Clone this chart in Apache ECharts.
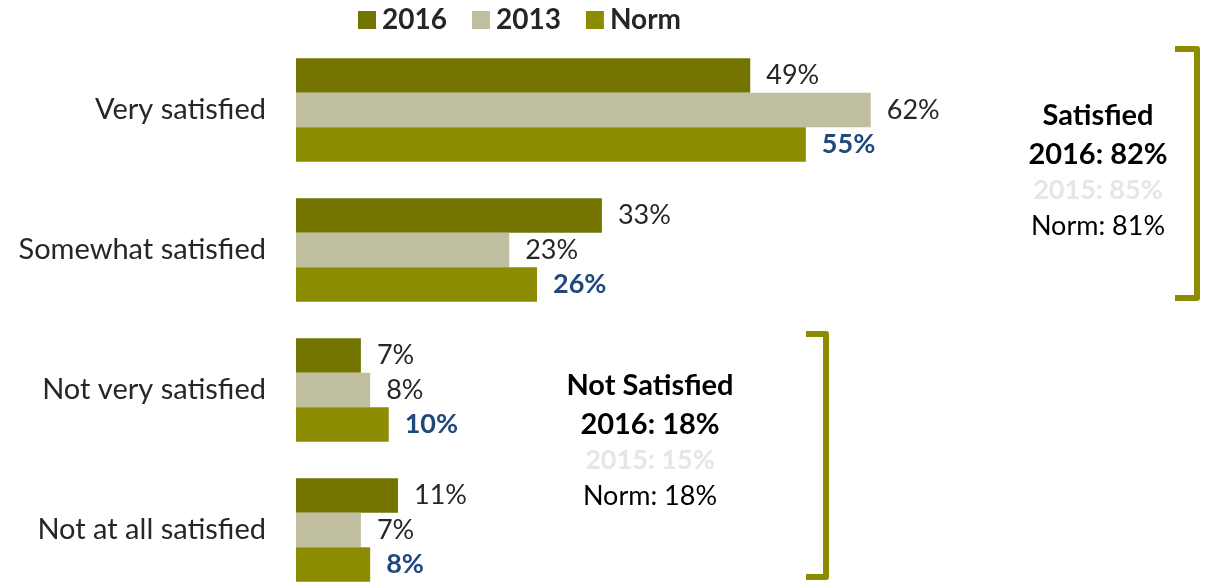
<!DOCTYPE html>
<html>
<head>
<meta charset="utf-8">
<script src="https://cdn.jsdelivr.net/npm/echarts@6/dist/echarts.min.js"></script>
<style>
  html, body { margin: 0; padding: 0; background: #fff; }
  #chart { width: 1209px; height: 583px; }
</style>
</head>
<body>
<div id="chart"></div>
<script>
// Satisfaction levels, top to bottom
const categories = ['Very satisfied', 'Somewhat satisfied', 'Not very satisfied', 'Not at all satisfied'];
const values2016 = [49, 33, 7, 11];
const values2013 = [62, 23, 8, 7];
const valuesNorm = [55, 26, 10, 8];
const seriesNames = ['2016', '2013', 'Norm'];

const FONT = 'Lato, "Open Sans", sans-serif';
const colors = ['#737300', '#BFBFA0', '#8C8C00'];

const chart = echarts.init(document.getElementById('chart'));

function barSeries(name, data, color, labelStyle) {
  return {
    name: name,
    type: 'bar',
    data: data,
    barGap: '0%',
    barCategoryGap: '26%',
    itemStyle: { color: color },
    label: Object.assign({
      show: true,
      position: 'right',
      distance: 16,
      formatter: '{c}%',
      fontFamily: FONT,
      fontSize: 27,
      color: '#262626'
    }, labelStyle || {})
  };
}

// Bracket for a group of rows, drawn as a "]" shape
function bracket(x, y1, y2, armLen) {
  return {
    type: 'polyline',
    shape: { points: [[x - armLen, y1], [x, y1], [x, y2], [x - armLen, y2]] },
    style: { fill: null, stroke: '#8C8C00', lineWidth: 6, lineJoin: 'round' }
  };
}

function summary(cx, top, title, cur, prev, norm) {
  const lines = [
    { text: title, weight: 'bold', size: 29, color: '#000' },
    { text: cur, weight: 'bold', size: 29, color: '#000' },
    { text: prev, weight: 'bold', size: 27, color: '#E6E6E6' },
    { text: norm, weight: 'normal', size: 27, color: '#000' }
  ];
  const offs = [0, 39, 74, 110];
  return lines.map((l, i) => ({
    type: 'text',
    x: cx,
    y: top + offs[i],
    style: {
      text: l.text,
      fill: l.color,
      font: `${l.weight} ${l.size}px ${FONT}`,
      align: 'center',
      verticalAlign: 'middle'
    }
  }));
}

chart.setOption({
  animation: false,
  legend: {
    top: 1,
    left: 353,
    itemWidth: 18,
    itemHeight: 18,
    itemGap: 25,
    icon: 'rect',
    textStyle: { fontFamily: FONT, fontSize: 28, fontWeight: 'bold', color: '#262626', padding: [0, 0, 0, 1] },
    data: seriesNames
  },
  grid: { left: 296, top: 40, width: 927, height: 560, outerBoundsMode: 'none', containLabel: false },
  xAxis: {
    type: 'value',
    min: 0,
    max: 100,
    show: false
  },
  yAxis: {
    type: 'category',
    inverse: true,
    data: categories,
    axisLine: { show: false },
    axisTick: { show: false },
    axisLabel: { margin: 30, fontFamily: FONT, fontSize: 29, color: '#262626' }
  },
  series: [
    barSeries(seriesNames[0], values2016, colors[0]),
    barSeries(seriesNames[1], values2013, colors[1]),
    barSeries(seriesNames[2], valuesNorm, colors[2], { fontWeight: 'bold', color: '#1F497D' })
  ],
  graphic: [
    bracket(1197, 49, 298, 22),
    bracket(826, 334, 577, 20)
  ].concat(
    summary(1098, 116, 'Satisfied', '2016: 82%', '2015: 85%', 'Norm: 81%'),
    summary(650, 386, 'Not Satisfied', '2016: 18%', '2015: 15%', 'Norm: 18%')
  )
});
</script>
</body>
</html>
